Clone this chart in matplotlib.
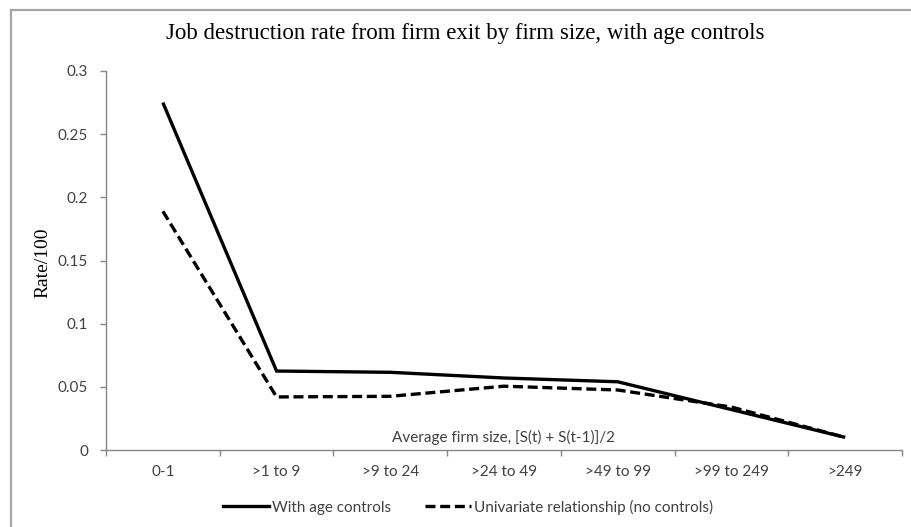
import matplotlib
matplotlib.use("Agg")
import matplotlib.pyplot as plt
from matplotlib.lines import Line2D
from matplotlib.patches import Rectangle

# categories and series
sizes = ["0-1", ">1 to 9", ">9 to 24", ">24 to 49", ">49 to 99", ">99 to 249", ">249"]
with_age = [0.275, 0.0625, 0.0615, 0.057, 0.054, 0.032, 0.010]
univariate = [0.189, 0.042, 0.0425, 0.0505, 0.0475, 0.034, 0.010]
yticks = [0, 0.05, 0.1, 0.15, 0.2, 0.25, 0.3]
ytick_labels = ["0", "0.05", "0.1", "0.15", "0.2", "0.25", "0.3"]

W, H = 912, 527
grey = "#868686"
label_col = "#404040"
sans = "Lato"
serif = "Liberation Serif"

fig = plt.figure(figsize=(W / 100, H / 100), dpi=100)
ax = fig.add_axes([106 / W, 1 - 450 / H, 796 / W, 379 / H])

x = list(range(len(sizes)))
ax.plot(x, with_age, color="black", lw=2.4, solid_capstyle="butt", solid_joinstyle="miter")
ax.plot(x, univariate, color="black", lw=2.4, ls=(0, (3, 1.4)), dash_capstyle="butt")

ax.set_xlim(-0.5, len(sizes) - 0.5)
ax.set_ylim(0, 0.3)

# tick marks at category boundaries, labels at centers
ax.set_xticks([i - 0.5 for i in range(len(sizes) + 1)])
ax.set_xticklabels([])
ax.set_xticks(x, minor=True)
ax.set_xticklabels(sizes, minor=True, fontsize=11, family=sans, color=label_col)
ax.tick_params(axis="x", which="major", length=4, width=1, color=grey, direction="out")
ax.tick_params(axis="x", which="minor", length=0, pad=11)

ax.set_yticks(yticks)
ax.set_yticklabels(ytick_labels, fontsize=11, family=sans, color=label_col)
ax.tick_params(axis="y", length=4, width=1, color=grey, direction="out", pad=9)

for side in ["top", "right"]:
    ax.spines[side].set_visible(False)
for side in ["left", "bottom"]:
    ax.spines[side].set_color(grey)
    ax.spines[side].set_linewidth(1)

ax.text(0.5, 0.032, "Average firm size, [S(t) + S(t-1)]/2", transform=ax.transAxes,
        ha="center", va="center", fontsize=11, family=sans, color=label_col)

fig.text(465 / W, 1 - 33 / H, "Job destruction rate from firm exit by firm size, with age controls",
         ha="center", va="center", fontsize=16.5, family=serif, color="black")
fig.text(43 / W, 1 - 263 / H, "Rate/100", rotation=90, ha="center", va="center",
         fontsize=14, family=serif, color="black")

handles = [Line2D([], [], color="black", lw=2.4),
           Line2D([], [], color="black", lw=2.4, ls=(0, (3, 1.4)))]
fig.legend(handles, ["With age controls", "Univariate relationship (no controls)"],
           loc="center", bbox_to_anchor=(468 / W, 1 - 507 / H), ncol=2, frameon=False,
           prop={"family": sans, "size": 11}, labelcolor=label_col,
           handlelength=3.0, handletextpad=0.2, columnspacing=2.2)

# chart area border, running off the right and bottom edges
fig.patches.append(Rectangle((11 / W, -0.2), 1.2, 1.2 - 10 / H, transform=fig.transFigure,
                             fill=False, edgecolor="#a6a6a6", lw=1.6))

fig.savefig("out.png", dpi=100)
